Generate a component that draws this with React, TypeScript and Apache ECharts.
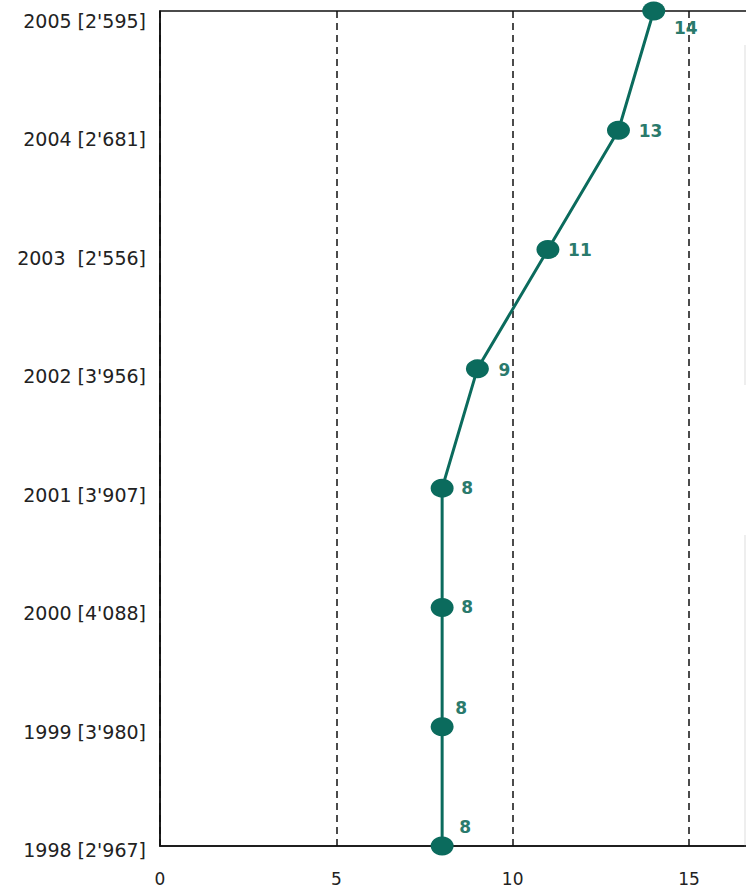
import React, { useEffect, useRef } from "react";
import * as echarts from "echarts";

const categories = [
  "1998 [2'967]",
  "1999 [3'980]",
  "2000 [4'088]",
  "2001 [3'907]",
  "2002 [3'956]",
  "2003  [2'556]",
  "2004 [2'681]",
  "2005 [2'595]",
];
const values = [8, 8, 8, 8, 9, 11, 13, 14];
const xTickLabels = ["0", "5", "10", "15"];
// label offsets per point [dx, dy]
const labelOffsets: [number, number][] = [
  [23, -19],
  [19, -19],
  [25, 0],
  [25, 0],
  [27, 1],
  [32, 0],
  [32, 1],
  [32, 17],
];

const TEAL = "#0b6b5d";
const FONT = "DejaVu Sans, Verdana, sans-serif";

export default function App() {
  const ref = useRef<HTMLDivElement>(null);
  useEffect(() => {
    if (!ref.current) return;
    const chart = echarts.init(ref.current, undefined, { renderer: "svg" });
    const unit = (689 - 160) / 15;
    chart.setOption({
      animation: false,
      backgroundColor: "#ffffff",
      grid: [
        {
          left: 160,
          top: 11,
          width: unit * 20,
          bottom: 38,
          show: true,
          borderColor: "#111",
          borderWidth: 1.5,
          backgroundColor: "transparent",
        },
        {
          left: 160,
          top: 21,
          width: 10,
          bottom: 37,
          show: false,
        },
      ],
      xAxis: [
        {
          type: "value",
          gridIndex: 0,
          min: 0,
          max: 20,
          interval: 5,
          axisLine: { show: true, lineStyle: { color: "#111", width: 1.5 } },
          axisTick: { show: false },
          axisLabel: {
            color: "#222",
            fontSize: 17,
            fontFamily: FONT,
            margin: 24,
            formatter: (v: number) =>
              xTickLabels.indexOf(String(v)) >= 0 ? String(v) : "",
          },
          splitLine: {
            show: true,
            lineStyle: { color: "#111", width: 1.5, type: [7, 5] },
          },
        },
        {
          type: "value",
          gridIndex: 1,
          show: false,
        },
      ],
      yAxis: [
        {
          type: "category",
          gridIndex: 0,
          data: categories,
          boundaryGap: false,
          axisLine: { show: true, lineStyle: { color: "#111", width: 1.5 } },
          axisTick: { show: false },
          axisLabel: { show: false },
          splitLine: { show: false },
        },
        {
          type: "category",
          gridIndex: 1,
          data: categories,
          boundaryGap: false,
          axisLine: { show: false },
          axisTick: { show: false },
          axisLabel: {
            color: "#222",
            fontSize: 19,
            fontFamily: FONT,
            margin: 14,
          },
          splitLine: { show: false },
        },
      ],
      series: [
        {
          type: "line",
          xAxisIndex: 0,
          yAxisIndex: 0,
          data: values.map((v, i) => ({
            value: v,
            label: {
              show: true,
              position: "inside",
              offset: labelOffsets[i],
            },
          })),
          symbol: "circle",
          symbolSize: [23, 19],
          itemStyle: { color: TEAL },
          lineStyle: { color: TEAL, width: 3 },
          label: {
            color: "#2a7a6c",
            fontSize: 17,
            fontWeight: "bold",
            fontFamily: FONT,
          },
          z: 3,
        },
      ],
      graphic: [
        {
          type: "line",
          shape: { x1: 745, y1: 45, x2: 745, y2: 385 },
          style: { stroke: "#dddddd", lineWidth: 1 },
        },
        {
          type: "line",
          shape: { x1: 745, y1: 535, x2: 745, y2: 847 },
          style: { stroke: "#dddddd", lineWidth: 1 },
        },
      ],
    });
    return () => chart.dispose();
  }, []);
  return (
    <div
      style={{
        position: "fixed",
        left: 0,
        top: 0,
        width: 746,
        height: 887,
        overflow: "hidden",
        background: "#fff",
      }}
    >
      <div ref={ref} style={{ width: 900, height: 887 }} />
    </div>
  );
}
